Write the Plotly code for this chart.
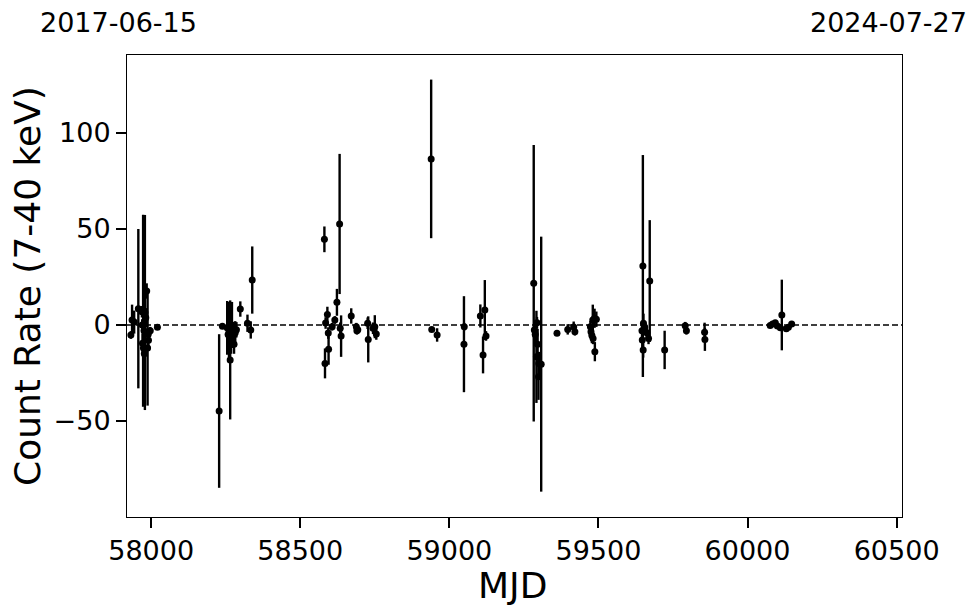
import plotly.graph_objects as go

# Observation times (MJD), count rates (7-40 keV) and 1-sigma errors
mjd = [57932, 57936, 57943, 57957, 57969, 57970, 57971, 57973, 57974, 57976,
       57977, 57979, 57982, 57985, 57988, 57990, 57991, 57997, 58021,
       58228, 58239, 58255, 58258, 58261, 58265, 58268, 58271, 58274, 58278,
       58282, 58286, 58299, 58323, 58334, 58339,
       58581, 58583, 58585, 58591, 58594, 58595, 58607, 58616, 58623, 58632,
       58634, 58637, 58671, 58688, 58690, 58693, 58726, 58728, 58744, 58750,
       58755,
       58939, 58941, 58959, 59049, 59050, 59104, 59113, 59119, 59123,
       59283, 59285, 59288, 59292, 59294, 59296, 59299, 59300, 59308,
       59361, 59397, 59417, 59421,
       59473, 59475, 59478, 59481, 59482, 59487, 59488, 59493,
       59646, 59647, 59649, 59650, 59651, 59655, 59662, 59668, 59672,
       59722, 59791, 59795, 59856, 59857,
       60076, 60084, 60093, 60100, 60110, 60115, 60130, 60137, 60148]
rate = [-5.2, 2.6, 1.5, 8.5, 6.9, 0.0, -9.5, 7.4, -12.0, -3.0,
        -15.0, 6.5, 3.8, 17.7, -12.0, -5.0, -8.0, -3.0, -1.2,
        -44.8, -0.7, -1.5, -5.0, -3.0, -18.2, -8.0, 0.0, -6.0, -10.0,
        -4.0, -2.5, 8.3, 0.9, -2.6, 23.4,
        44.6, -20.0, 1.0, 5.5, -4.2, -12.7, -0.9, 2.6, 11.8, 52.6,
        -1.7, -5.8, 4.7, -0.9, -3.0, -2.5, 0.9, -7.5, -1.7, -0.9,
        -4.7,
        86.5, -2.3, -5.2, -10.0, -0.9, 4.7, -15.6, 7.8, -5.7,
        21.7, -2.6, -5.0, -16.6, 1.2, -10.0, -27.0, -20.0, -20.4,
        -4.3, -2.3, -1.0, -3.5,
        -0.9, -3.5, -5.5, 2.6, -7.0, 3.5, -13.9, 3.0,
        -3.0, -7.8, 30.7, -13.0, 0.9, -1.0, -4.0, -7.0, 22.9,
        -13.0, -0.4, -3.0, -3.8, -7.5,
        -0.3, 0.5, 1.2, -0.5, -1.4, 5.2, -2.0, -1.2, 0.5]
err = [2.0, 8.0, 6.0, 41.5, 3.0, 3.0, 5.0, 50.0, 6.0, 4.0,
       8.0, 50.8, 5.0, 4.0, 30.0, 3.0, 5.0, 2.0, 1.0,
       40.0, 1.0, 14.0, 10.0, 15.0, 31.0, 7.0, 12.0, 6.0, 5.0,
       6.0, 4.0, 4.0, 4.5, 4.5, 17.5,
       6.7, 7.8, 3.0, 4.0, 3.0, 8.0, 2.0, 2.0, 7.0, 36.5,
       3.0, 10.8, 4.0, 2.0, 2.0, 2.0, 3.0, 12.0, 3.0, 6.0,
       3.0,
       41.3, 1.0, 3.5, 25.0, 2.0, 6.0, 9.6, 15.6, 2.5,
       72.0, 3.0, 6.0, 24.0, 3.0, 8.0, 12.0, 6.0, 66.4,
       1.0, 2.7, 2.8, 2.0,
       3.0, 3.0, 4.0, 8.0, 3.0, 5.0, 5.0, 4.0,
       4.0, 5.0, 57.8, 4.0, 5.0, 3.0, 3.0, 3.0, 31.7,
       10.0, 2.0, 2.0, 5.0, 6.0,
       1.0, 1.0, 1.0, 1.0, 1.0, 18.4, 1.0, 1.0, 1.0]

x_ticks = [58000, 58500, 59000, 59500, 60000, 60500]
y_ticks = [-50, 0, 50, 100]
start_label = "2017-06-15"
end_label = "2024-07-27"
x_title = "MJD"
y_title = "Count Rate (7-40 keV)"
x_range = [57919, 60518]
y_range = [-100, 140.6]

FONT = "DejaVu Sans"

fig = go.Figure()
fig.add_trace(go.Scatter(
    x=mjd, y=rate, mode="markers",
    marker=dict(color="black", size=7),
    error_y=dict(type="data", array=err, visible=True, color="black",
                 thickness=2.4, width=0),
    showlegend=False,
))

fig.add_shape(type="line", xref="paper", yref="y", x0=0, x1=1, y0=0, y1=0,
              line=dict(color="black", width=1.5, dash="6px,3px"))

def txt(text, x, y, xs=0, ys=0, size=28, angle=0):
    fig.add_annotation(text=text, xref="paper", yref="paper", x=x, y=y,
                       xshift=xs, yshift=ys, xanchor="center", yanchor="middle",
                       textangle=angle, showarrow=False,
                       font=dict(family=FONT, size=size, color="black"))

txt(start_label, -0.0116, 1.0, ys=33, size=27)
txt(end_label, 0.983, 1.0, ys=33, size=27)
txt(x_title, 0.498, 0.0, ys=-68, size=36)
txt(y_title, 0.0, 0.5, xs=-100, size=36, angle=-90)

fig.update_layout(
    width=980, height=613,
    margin=dict(l=127, r=78, t=55, b=96),
    paper_bgcolor="white", plot_bgcolor="white",
    font=dict(family=FONT, color="black"),
    xaxis=dict(range=x_range, tickvals=x_ticks, tickformat="d", ticks="outside",
               ticklen=10, tickwidth=2, tickcolor="black", showgrid=False,
               zeroline=False, showline=True, linecolor="black", linewidth=1,
               mirror=True, tickfont=dict(size=27, family=FONT, color="black")),
    yaxis=dict(range=y_range, tickvals=y_ticks, tickformat="d", ticks="outside",
               ticklen=10, tickwidth=2, tickcolor="black", showgrid=False,
               zeroline=False, showline=True, linecolor="black", linewidth=1,
               mirror=True, tickfont=dict(size=27, family=FONT, color="black")),
)

fig.write_html("out.html", config={"displayModeBar": False},
               post_script="document.body.style.margin='0';document.body.style.overflow='hidden';")
